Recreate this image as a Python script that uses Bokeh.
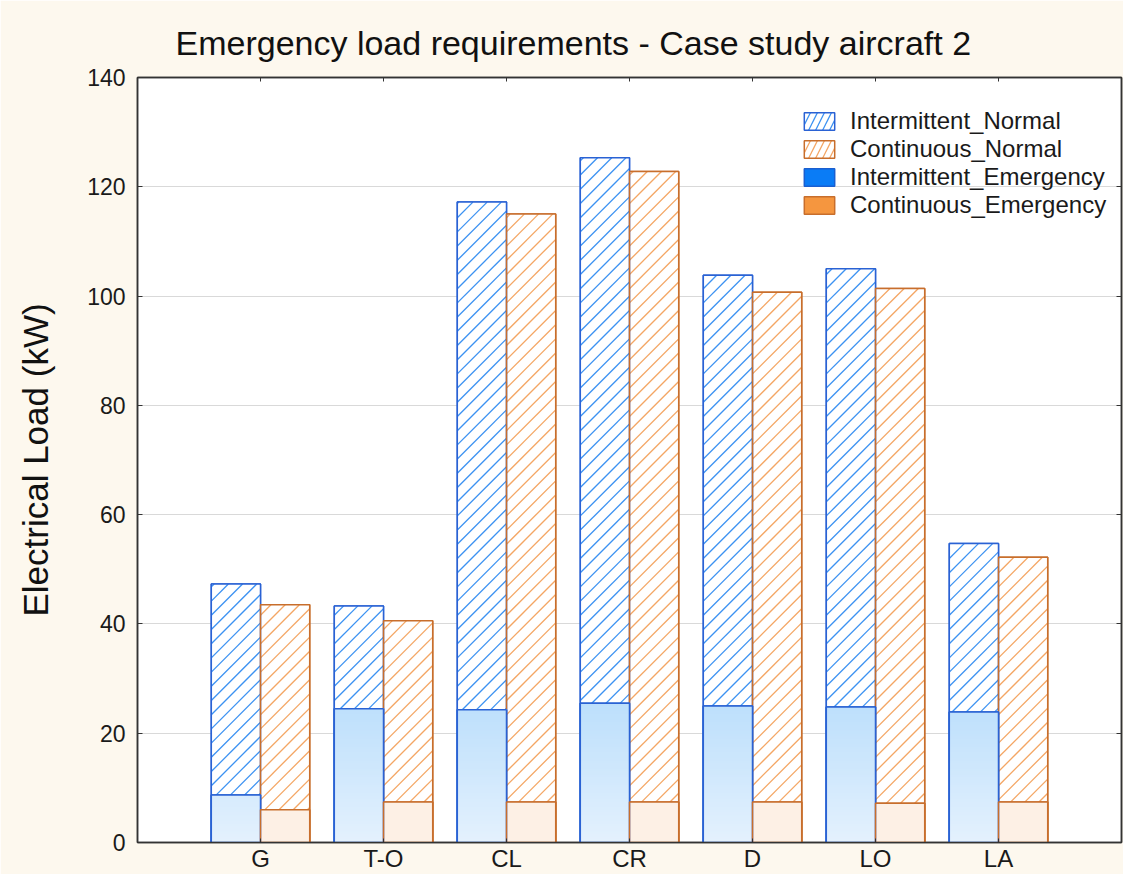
from bokeh.plotting import figure
from bokeh.models import (ColumnDataSource, FixedTicker, LinearAxis, Legend, LegendItem, Range1d)
from bokeh.embed import file_html
from bokeh.resources import INLINE

# ---- data ----
phases = ["G", "T-O", "CL", "CR", "D", "LO", "LA"]
intermittent_normal = [47.3, 43.3, 117.2, 125.3, 103.8, 105.0, 54.7]
continuous_normal = [43.5, 40.6, 115.0, 122.8, 100.7, 101.4, 52.2]
intermittent_emergency = [8.7, 24.5, 24.3, 25.5, 25.0, 24.8, 23.9]
continuous_emergency = [6.0, 7.4, 7.4, 7.4, 7.4, 7.2, 7.4]
y_ticks = [0, 20, 40, 60, 80, 100, 120, 140]

FONT = "Liberation Sans"
BG = "#fdf8ee"
BLUE_LINE = "#2a62d4"
BLUE_HATCH = "#3c92f2"
ORANGE_LINE = "#c86e2c"
ORANGE_HATCH = "#f4a664"

# approximate screen scale of the frame (used only to draw 45-degree hatching)
PX_PER_X = 123.0
PX_PER_Y = 5.464
HATCH_PX = 14.2

x_pos = list(range(len(phases)))
bw = 0.4
n = len(phases)

p = figure(width=1123, height=874, output_backend="svg", toolbar_location=None,
           x_range=Range1d(-1, n), y_range=Range1d(0, 140),
           min_border_left=137, min_border_top=77, min_border_bottom=28, min_border_right=2)
p.border_fill_color = BG
p.background_fill_color = "white"
p.outline_line_color = "#333333"
p.outline_line_width = 1.5

src_in = ColumnDataSource(dict(left=[x - bw for x in x_pos], right=x_pos,
                               top=intermittent_normal, bottom=[0] * n))
src_cn = ColumnDataSource(dict(left=x_pos, right=[x + bw for x in x_pos],
                               top=continuous_normal, bottom=[0] * n))
src_ie = ColumnDataSource(dict(left=[x - bw for x in x_pos], right=x_pos,
                               top=intermittent_emergency, bottom=[0] * n))
src_ce = ColumnDataSource(dict(left=x_pos, right=[x + bw for x in x_pos],
                               top=continuous_emergency, bottom=[0] * n))

# normal bars: hatched renderers (used for the legend), then covered by white
r_in = p.quad(left="left", right="right", top="top", bottom="bottom", source=src_in,
              fill_color="white", line_color=BLUE_LINE, line_width=1.5,
              hatch_pattern="/", hatch_color=BLUE_HATCH, hatch_scale=14, hatch_weight=1.3)
r_cn = p.quad(left="left", right="right", top="top", bottom="bottom", source=src_cn,
              fill_color="white", line_color=ORANGE_LINE, line_width=1.5,
              hatch_pattern="/", hatch_color=ORANGE_HATCH, hatch_scale=14, hatch_weight=1.3)
p.quad(left="left", right="right", top="top", bottom="bottom", source=src_in,
       fill_color="white", line_color=None)
p.quad(left="left", right="right", top="top", bottom="bottom", source=src_cn,
       fill_color="white", line_color=None)


# 45-degree hatch lines clipped to each bar
def hatch_segments(lefts, rights, tops):
    m = PX_PER_X / PX_PER_Y          # data-y rise per data-x for 45 degrees
    dy = HATCH_PX / PX_PER_Y
    x0s, y0s, x1s, y1s = [], [], [], []
    for xl, xr, t in zip(lefts, rights, tops):
        rise = (xr - xl) * m
        k = -int(rise / dy) - 1
        while True:
            y_at_left = k * dy
            if y_at_left > t:
                break
            xs = max(xl, xl + (0 - y_at_left) / m)
            xe = min(xr, xl + (t - y_at_left) / m)
            if xe > xs:
                x0s.append(xs)
                y0s.append(y_at_left + (xs - xl) * m)
                x1s.append(xe)
                y1s.append(y_at_left + (xe - xl) * m)
            k += 1
    return x0s, y0s, x1s, y1s


hx0, hy0, hx1, hy1 = hatch_segments(src_in.data["left"], src_in.data["right"], intermittent_normal)
p.segment(x0=hx0, y0=hy0, x1=hx1, y1=hy1, line_color=BLUE_HATCH, line_width=1.3)
hx0, hy0, hx1, hy1 = hatch_segments(src_cn.data["left"], src_cn.data["right"], continuous_normal)
p.segment(x0=hx0, y0=hy0, x1=hx1, y1=hy1, line_color=ORANGE_HATCH, line_width=1.3)

# normal bar borders
p.quad(left="left", right="right", top="top", bottom="bottom", source=src_in,
       fill_color=None, line_color=BLUE_LINE, line_width=1.5)
p.quad(left="left", right="right", top="top", bottom="bottom", source=src_cn,
       fill_color=None, line_color=ORANGE_LINE, line_width=1.5)

# emergency bars (saturated version used for legend, covered below)
r_ie = p.quad(left="left", right="right", top="top", bottom="bottom", source=src_ie,
              fill_color="#0a7cf6", line_color="#1a5fd0", line_width=1.5)
r_ce = p.quad(left="left", right="right", top="top", bottom="bottom", source=src_ce,
              fill_color="#f5963f", line_color=ORANGE_LINE, line_width=1.5)


def lerp_color(c0, c1, t):
    t = max(0.0, min(1.0, t))
    a = [int(c0[i:i + 2], 16) for i in (1, 3, 5)]
    b = [int(c1[i:i + 2], 16) for i in (1, 3, 5)]
    return "#%02x%02x%02x" % tuple(round(a[k] + (b[k] - a[k]) * t) for k in range(3))


# vertical gradient for intermittent emergency bars (colour by absolute height)
g_left, g_right, g_bottom, g_top, g_color = [], [], [], [], []
step = 0.5
for x, v in zip(x_pos, intermittent_emergency):
    y = 0.0
    while y < v:
        g_left.append(x - bw)
        g_right.append(x)
        g_bottom.append(y)
        g_top.append(v)
        g_color.append(lerp_color("#e4f1fd", "#bcdffc", (y + step / 2) / 25.5))
        y += step
p.quad(left=g_left, right=g_right, bottom=g_bottom, top=g_top, fill_color=g_color, line_color=None)

p.quad(left="left", right="right", top="top", bottom="bottom", source=src_ce,
       fill_color="#fdf0e5", line_color=None)

p.quad(left="left", right="right", top="top", bottom="bottom", source=src_ie,
       fill_color=None, line_color=BLUE_LINE, line_width=1.5)
p.quad(left="left", right="right", top="top", bottom="bottom", source=src_ce,
       fill_color=None, line_color=ORANGE_LINE, line_width=1.5)

# title
p.title.text = "Emergency load requirements - Case study aircraft 2"
p.title.text_font = FONT
p.title.text_font_size = "34px"
p.title.text_font_style = "normal"
p.title.text_color = "#111111"
p.title.align = "left"
p.title.offset = 38
p.title.standoff = 32

# axes
p.xgrid.visible = False
p.ygrid.grid_line_color = "#d9d9d9"
p.ygrid.ticker = FixedTicker(ticks=y_ticks)

xa = p.xaxis[0]
xa.ticker = FixedTicker(ticks=x_pos)
xa.major_label_overrides = {i: s for i, s in enumerate(phases)}
xa.major_label_text_font = FONT
xa.major_label_text_font_size = "24px"
xa.major_label_text_color = "#1a1a1a"
xa.major_label_standoff = 2
xa.major_tick_in = 4
xa.major_tick_out = 0
xa.minor_tick_line_color = None
xa.axis_line_color = "#333333"
xa.axis_line_width = 1.5
xa.major_tick_line_color = "#333333"

ya = p.yaxis[0]
ya.ticker = FixedTicker(ticks=y_ticks)
ya.axis_label = "Electrical Load (kW)"
ya.axis_label_text_font = FONT
ya.axis_label_text_font_size = "35px"
ya.axis_label_text_font_style = "normal"
ya.axis_label_text_color = "#111111"
ya.axis_label_standoff = 29
ya.major_label_text_font = FONT
ya.major_label_text_font_size = "23px"
ya.major_label_text_color = "#1a1a1a"
ya.major_label_standoff = 12
ya.major_tick_in = 5
ya.major_tick_out = 0
ya.minor_tick_line_color = None
ya.axis_line_color = "#333333"
ya.axis_line_width = 1.5
ya.major_tick_line_color = "#333333"

ra = LinearAxis(ticker=FixedTicker(ticks=y_ticks), major_label_text_font_size="1px",
                major_label_text_color=None,
                major_label_standoff=0, major_tick_in=5, major_tick_out=0,
                minor_tick_line_color=None, axis_line_color="#333333", axis_line_width=1.5,
                major_tick_line_color="#333333")
p.add_layout(ra, "right")
ta = LinearAxis(ticker=FixedTicker(ticks=x_pos), major_label_text_font_size="1px",
                major_label_text_color=None,
                major_label_standoff=0, major_tick_in=4, major_tick_out=0,
                minor_tick_line_color=None, axis_line_color="#333333", axis_line_width=1.5,
                major_tick_line_color="#333333")
p.add_layout(ta, "above")

# legend
legend = Legend(items=[
    LegendItem(label="Intermittent_Normal", renderers=[r_in]),
    LegendItem(label="Continuous_Normal", renderers=[r_cn]),
    LegendItem(label="Intermittent_Emergency", renderers=[r_ie]),
    LegendItem(label="Continuous_Emergency", renderers=[r_ce]),
], location=(663, 623))
legend.background_fill_alpha = 0
legend.border_line_alpha = 0
legend.label_text_font = FONT
legend.label_text_font_size = "24px"
legend.label_text_color = "#1a1a1a"
legend.glyph_width = 38
legend.glyph_height = 22
legend.label_height = 22
legend.label_standoff = 12
legend.spacing = 0
legend.padding = 0
legend.margin = 0
p.add_layout(legend, "center")

open("out.html", "w").write(file_html(p, INLINE))
